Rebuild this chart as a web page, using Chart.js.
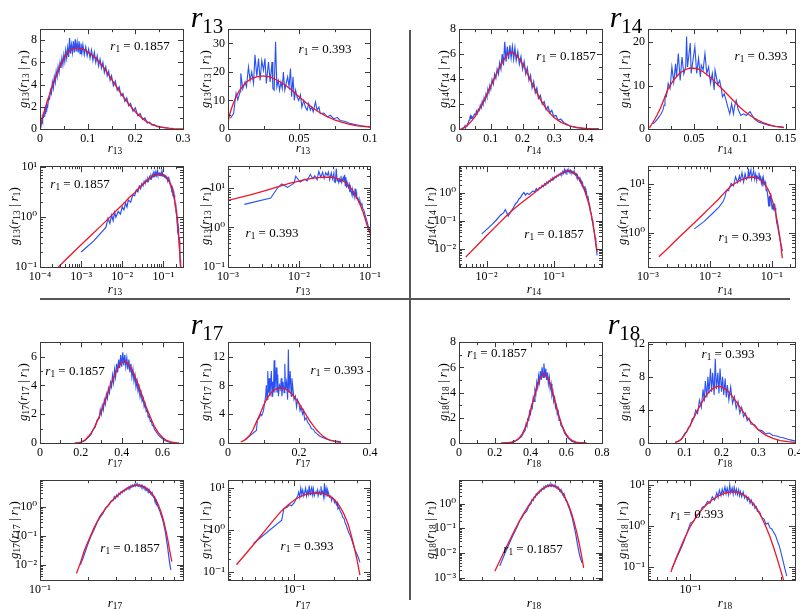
<!DOCTYPE html>
<html><head><meta charset="utf-8">
<script src="https://cdn.jsdelivr.net/npm/chart.js@4.4.1/dist/chart.umd.min.js"></script>
<style>
body{margin:0;width:800px;height:609px;position:relative;background:#fff;overflow:hidden;font-family:'Liberation Serif','DejaVu Serif',serif;color:#000}
canvas{position:absolute}
.t{position:absolute;white-space:nowrap;line-height:1}
.t sub{font-size:0.72em;vertical-align:-0.32em;line-height:0}
.big sub{font-size:0.7em;vertical-align:-0.28em}
.line{position:absolute;background:#555}
</style></head><body>
<script>
// ---------- data: [r, g(r|r1)] ----------
const r13_a_red = [[0.00028,0.1],[0.0005,0.16],[0.001,0.28],[0.002,0.48],[0.003,0.66],[0.005,1.0],[0.0075,1.4],[0.01,1.75],[0.015,2.5],[0.02,3.1],[0.025,3.8],[0.03,4.4],[0.035,4.95],[0.04,5.45],[0.045,5.95],[0.05,6.35],[0.055,6.7],[0.06,6.95],[0.065,7.15],[0.07,7.25],[0.075,7.3],[0.08,7.3],[0.085,7.25],[0.09,7.2],[0.095,7.1],[0.10,6.95],[0.11,6.65],[0.12,6.25],[0.13,5.75],[0.14,5.15],[0.15,4.5],[0.16,3.85],[0.17,3.2],[0.18,2.6],[0.19,2.05],[0.20,1.55],[0.21,1.12],[0.22,0.78],[0.23,0.52],[0.24,0.33],[0.25,0.2],[0.26,0.12],[0.27,0.07],[0.28,0.04],[0.29,0.02],[0.30,0.01]];
const r13_a_blue = [[0.001,0.2],[0.002,0.33],[0.003,0.48],[0.004,0.62],[0.0045,0.95],[0.005,0.75],[0.0055,1.1],[0.006,0.85],[0.0065,1.25],[0.007,1.0],[0.008,1.3],[0.009,1.15],[0.010,1.6],[0.011,1.4],[0.012,1.9],[0.013,1.6],[0.014,2.2],[0.016,2.0],[0.018,2.8],[0.020,2.7],[0.022,3.5],[0.024,3.2],[0.026,4.2],[0.028,3.7],[0.030,4.7],[0.032,4.2],[0.034,5.2],[0.036,4.7],[0.038,5.6],[0.040,5.1],[0.042,6.0],[0.044,5.5],[0.046,6.4],[0.048,5.8],[0.050,6.7],[0.052,6.1],[0.054,7.1],[0.056,6.4],[0.058,7.3],[0.060,6.5],[0.062,8.2],[0.064,6.8],[0.066,7.6],[0.068,6.9],[0.070,7.9],[0.072,6.9],[0.074,8.1],[0.076,7.0],[0.078,7.8],[0.080,6.9],[0.082,7.9],[0.084,6.8],[0.086,7.7],[0.088,6.9],[0.090,7.6],[0.093,6.7],[0.096,7.4],[0.099,6.6],[0.102,7.2],[0.105,6.4],[0.108,7.1],[0.111,6.2],[0.114,6.9],[0.117,6.0],[0.120,6.6],[0.123,5.7],[0.126,6.3],[0.129,5.5],[0.132,6.0],[0.135,5.1],[0.138,5.6],[0.141,4.8],[0.144,5.2],[0.147,4.4],[0.150,4.8],[0.154,3.9],[0.158,4.3],[0.162,3.5],[0.166,3.8],[0.170,3.0],[0.174,3.2],[0.178,2.5],[0.182,2.8],[0.186,2.1],[0.190,2.3],[0.195,1.6],[0.200,1.9],[0.205,1.2],[0.210,1.4],[0.215,0.85],[0.220,1.0],[0.225,0.55],[0.230,0.62],[0.235,0.35],[0.240,0.4],[0.245,0.22],[0.250,0.24],[0.255,0.14],[0.260,0.14],[0.265,0.09],[0.270,0.08]];

const r13_b_red = [[0.0003,3.0],[0.001,4.8],[0.002,6.5],[0.003,8.0],[0.005,10.5],[0.0075,13],[0.01,14.8],[0.013,16.5],[0.016,17.5],[0.02,18.3],[0.025,18.6],[0.03,18.2],[0.035,17.0],[0.04,15.5],[0.045,13.6],[0.05,11.3],[0.055,9.2],[0.06,7.3],[0.065,5.6],[0.07,4.3],[0.075,3.2],[0.08,2.4],[0.085,1.7],[0.09,1.2],[0.095,0.9],[0.1,0.7]];
const r13_b_blue = [[0.0017,3.8],[0.004,5.5],[0.005,10],[0.0057,12.5],[0.0069,10.2],[0.0085,13],[0.009,19.5],[0.0104,14],[0.012,16.5],[0.013,14.8],[0.0144,21.8],[0.0156,17],[0.0167,20],[0.018,16],[0.019,26],[0.0203,18.4],[0.0215,24.7],[0.0226,17],[0.0238,24],[0.025,20.6],[0.026,24.7],[0.027,16],[0.0285,23.5],[0.0297,16.5],[0.031,23.5],[0.0316,14.2],[0.0325,13.6],[0.0335,30.6],[0.0344,14.8],[0.0354,17],[0.0363,13.6],[0.0373,16.5],[0.0382,14.2],[0.039,20],[0.040,13.6],[0.041,16],[0.042,18.3],[0.043,14.8],[0.044,21.2],[0.0448,11.3],[0.0458,18.3],[0.0467,10],[0.0476,13.6],[0.0486,11.3],[0.0498,10],[0.051,12],[0.052,7.7],[0.0533,10],[0.0545,7.7],[0.0557,6.6],[0.0568,8.9],[0.058,6.6],[0.059,7.7],[0.060,6],[0.0616,9.5],[0.0627,6.6],[0.064,7.7],[0.065,5.4],[0.0675,5.6],[0.070,4.2],[0.072,4.8],[0.0745,3.6],[0.077,4.0],[0.079,3.0],[0.082,2.7],[0.085,2.1],[0.088,1.7],[0.091,1.4],[0.094,1.1],[0.097,0.95],[0.1,0.75]];

const r14_a_red = [[0.0049,0.0052],[0.007,0.0125],[0.01,0.030],[0.015,0.08],[0.02,0.16],[0.025,0.26],[0.03,0.38],[0.04,0.65],[0.05,0.98],[0.06,1.4],[0.07,1.85],[0.08,2.35],[0.09,2.9],[0.10,3.45],[0.11,4.0],[0.12,4.55],[0.13,5.05],[0.14,5.5],[0.15,5.9],[0.16,6.15],[0.17,6.1],[0.18,5.9],[0.19,5.6],[0.20,5.2],[0.21,4.75],[0.22,4.2],[0.23,3.65],[0.24,3.15],[0.25,2.65],[0.26,2.2],[0.27,1.8],[0.28,1.45],[0.29,1.15],[0.30,0.9],[0.32,0.55],[0.34,0.32],[0.36,0.17],[0.38,0.085],[0.40,0.04],[0.42,0.018],[0.44,0.008]];
const r14_a_blue = [[0.0085,0.035],[0.010,0.05],[0.012,0.075],[0.014,0.11],[0.016,0.16],[0.018,0.2],[0.019,0.26],[0.020,0.2],[0.021,0.15],[0.023,0.22],[0.025,0.3],[0.027,0.42],[0.029,0.5],[0.030,0.6],[0.032,0.7],[0.034,0.9],[0.036,1.05],[0.038,0.85],[0.040,1.0],[0.043,0.9],[0.046,1.05],[0.049,1.2],[0.052,1.1],[0.055,1.45],[0.058,1.25],[0.061,1.6],[0.064,1.5],[0.067,1.9],[0.070,1.7],[0.073,2.2],[0.076,1.95],[0.079,2.5],[0.082,2.25],[0.085,2.8],[0.088,2.55],[0.091,3.2],[0.094,2.9],[0.097,3.5],[0.100,3.2],[0.104,3.95],[0.108,3.6],[0.112,4.4],[0.116,4.05],[0.120,4.8],[0.124,4.4],[0.128,5.3],[0.132,4.8],[0.136,6.0],[0.140,5.1],[0.144,7.0],[0.148,5.4],[0.152,6.6],[0.156,5.6],[0.160,6.7],[0.164,5.7],[0.168,6.6],[0.172,5.6],[0.176,6.5],[0.180,5.5],[0.185,6.2],[0.190,5.2],[0.195,5.8],[0.200,4.8],[0.205,5.4],[0.210,4.4],[0.215,4.9],[0.220,3.9],[0.225,4.3],[0.230,3.3],[0.235,3.8],[0.240,2.9],[0.245,3.3],[0.250,2.45],[0.256,2.7],[0.262,2.0],[0.268,2.2],[0.274,1.55],[0.280,1.8],[0.286,1.3],[0.292,1.5],[0.298,1.0],[0.305,1.1],[0.312,0.7],[0.320,0.8],[0.330,0.5],[0.340,0.38],[0.350,0.22],[0.360,0.19],[0.370,0.11],[0.380,0.09],[0.390,0.055],[0.400,0.04],[0.410,0.025],[0.420,0.015],[0.430,0.01],[0.440,0.006]];

const r14_b_red = [[0.0015,0.32],[0.002,0.45],[0.003,0.75],[0.005,1.4],[0.0075,2.3],[0.01,3.3],[0.0135,4.8],[0.0175,6.9],[0.022,9.3],[0.028,11.3],[0.034,12.8],[0.04,13.6],[0.045,14.0],[0.05,14.0],[0.055,13.8],[0.06,13.2],[0.065,12.4],[0.07,11.5],[0.075,10.4],[0.08,9.4],[0.085,8.3],[0.09,7.2],[0.095,6.1],[0.10,5.0],[0.105,4.1],[0.11,3.3],[0.115,2.6],[0.12,2.0],[0.125,1.5],[0.13,1.1],[0.135,0.8],[0.14,0.55],[0.148,0.3]];
const r14_b_blue = [[0.0056,1.2],[0.008,1.7],[0.011,2.5],[0.014,3.4],[0.0163,4.4],[0.0175,5.5],[0.0185,7.5],[0.020,7.4],[0.022,10.5],[0.024,9.3],[0.026,14.3],[0.028,10.8],[0.030,15],[0.031,12],[0.033,17.4],[0.035,11.2],[0.037,16.6],[0.039,12.7],[0.041,14.3],[0.042,21.3],[0.043,14.3],[0.046,19.8],[0.047,12.8],[0.049,15.9],[0.051,19],[0.053,12.8],[0.055,16.3],[0.057,12],[0.058,14.7],[0.060,13.6],[0.062,17.4],[0.064,12.8],[0.066,14.3],[0.068,10.5],[0.070,12.8],[0.072,9],[0.073,13.6],[0.076,10.2],[0.078,11.2],[0.080,9],[0.081,7.4],[0.083,8.1],[0.085,6.6],[0.087,5],[0.089,3.5],[0.091,5.8],[0.093,3.5],[0.094,5],[0.096,6.6],[0.098,4.6],[0.101,3.1],[0.104,3.5],[0.107,3.1],[0.109,3.6],[0.111,4.0],[0.113,3.3],[0.116,2.3],[0.120,1.6],[0.125,1.3],[0.131,0.9],[0.138,0.65],[0.145,0.5],[0.148,0.42]];

const r17_a_red = [[0.17,0.005],[0.18,0.012],[0.19,0.03],[0.20,0.06],[0.22,0.2],[0.24,0.5],[0.26,0.9],[0.28,1.5],[0.30,2.2],[0.32,3.0],[0.34,3.8],[0.36,4.5],[0.38,5.2],[0.40,5.6],[0.42,5.65],[0.44,5.35],[0.46,4.8],[0.48,4.1],[0.50,3.3],[0.52,2.5],[0.54,1.8],[0.56,1.15],[0.58,0.7],[0.60,0.38],[0.62,0.18],[0.64,0.08],[0.66,0.03],[0.68,0.013]];
const r17_a_blue = [[0.18,0.01],[0.19,0.022],[0.20,0.05],[0.21,0.1],[0.22,0.17],[0.23,0.3],[0.24,0.45],[0.25,0.6],[0.26,0.95],[0.27,1.1],[0.28,1.6],[0.29,1.7],[0.295,2.3],[0.30,2.0],[0.305,2.6],[0.31,2.3],[0.315,3.0],[0.32,2.7],[0.325,3.4],[0.33,3.1],[0.335,3.8],[0.34,3.5],[0.345,4.2],[0.35,3.9],[0.355,4.7],[0.36,4.2],[0.365,5.1],[0.37,4.6],[0.375,5.5],[0.38,4.9],[0.385,5.8],[0.39,5.2],[0.395,6.1],[0.40,5.3],[0.405,6.3],[0.41,5.4],[0.415,6.1],[0.42,5.3],[0.425,5.9],[0.43,5.1],[0.435,5.8],[0.44,4.9],[0.445,5.5],[0.45,4.6],[0.455,5.1],[0.46,4.3],[0.465,4.7],[0.47,3.9],[0.475,4.3],[0.48,3.6],[0.485,3.9],[0.49,3.2],[0.495,3.5],[0.50,2.9],[0.505,3.1],[0.51,2.5],[0.515,2.7],[0.52,2.2],[0.525,2.3],[0.53,1.8],[0.535,1.9],[0.54,1.5],[0.545,1.55],[0.55,1.2],[0.555,1.2],[0.56,0.95],[0.57,0.75],[0.58,0.55],[0.59,0.42],[0.60,0.3],[0.61,0.2],[0.62,0.13],[0.63,0.07],[0.64,0.04],[0.65,0.02],[0.66,0.011],[0.67,0.0067]];

const r17_b_red = [[0.036,0.15],[0.04,0.22],[0.05,0.5],[0.06,1.0],[0.07,1.8],[0.08,2.9],[0.09,4.0],[0.10,5.2],[0.11,6.2],[0.12,6.9],[0.13,7.4],[0.14,7.6],[0.15,7.65],[0.16,7.55],[0.17,7.25],[0.18,6.8],[0.19,6.2],[0.20,5.5],[0.21,4.7],[0.22,3.9],[0.23,3.1],[0.24,2.4],[0.25,1.8],[0.26,1.3],[0.27,0.85],[0.28,0.55],[0.29,0.35],[0.30,0.22],[0.31,0.13],[0.318,0.085]];
const r17_b_blue = [[0.0486,0.48],[0.08,1.73],[0.083,3.2],[0.088,3.5],[0.092,4.0],[0.095,3.8],[0.10,4.5],[0.103,5.5],[0.106,6.5],[0.108,8.0],[0.11,6.0],[0.112,10.0],[0.114,7.0],[0.116,9.0],[0.118,6.5],[0.12,8.0],[0.122,10.0],[0.124,6.5],[0.126,8.5],[0.128,7.0],[0.13,11.5],[0.132,7.0],[0.134,9.0],[0.136,10.5],[0.138,7.0],[0.14,9.5],[0.142,6.5],[0.145,8.0],[0.148,7.5],[0.15,9.0],[0.152,6.5],[0.155,8.5],[0.158,7.0],[0.16,11.0],[0.162,7.5],[0.165,8.5],[0.168,6.0],[0.17,13.0],[0.172,7.0],[0.175,10.0],[0.178,6.5],[0.18,9.0],[0.183,7.5],[0.186,6.0],[0.19,6.5],[0.193,5.0],[0.196,6.0],[0.2,5.5],[0.203,4.5],[0.206,5.0],[0.21,4.0],[0.213,4.5],[0.216,3.2],[0.22,3.5],[0.225,2.8],[0.23,2.5],[0.235,2.0],[0.24,1.9],[0.245,1.5],[0.25,1.3],[0.26,0.9],[0.27,0.7],[0.28,0.5],[0.29,0.35],[0.30,0.28],[0.31,0.22],[0.318,0.17]];

const r18_a_red = [[0.235,0.0018],[0.255,0.0066],[0.275,0.021],[0.295,0.062],[0.315,0.16],[0.335,0.37],[0.355,0.75],[0.375,1.38],[0.395,2.27],[0.415,3.35],[0.435,4.4],[0.455,5.2],[0.475,5.5],[0.495,5.25],[0.515,4.5],[0.535,3.45],[0.555,2.35],[0.575,1.45],[0.595,0.8],[0.615,0.4],[0.635,0.18],[0.655,0.072],[0.675,0.026],[0.695,0.0085],[0.715,0.0025]];
const r18_a_blue = [[0.25,0.003],[0.27,0.012],[0.29,0.04],[0.31,0.11],[0.32,0.2],[0.33,0.27],[0.34,0.4],[0.35,0.5],[0.36,0.8],[0.37,1.0],[0.375,1.5],[0.38,1.35],[0.385,1.9],[0.39,1.8],[0.395,2.5],[0.40,2.3],[0.405,3.0],[0.41,2.8],[0.415,3.6],[0.42,3.3],[0.425,4.2],[0.43,3.9],[0.435,4.8],[0.44,4.4],[0.445,5.3],[0.45,4.8],[0.455,5.7],[0.46,5.0],[0.465,6.0],[0.47,5.2],[0.475,6.3],[0.48,5.2],[0.485,5.9],[0.49,5.0],[0.495,5.6],[0.50,4.7],[0.505,5.2],[0.51,4.3],[0.515,4.7],[0.52,3.8],[0.525,4.1],[0.53,3.3],[0.535,3.6],[0.54,2.8],[0.545,3.0],[0.55,2.3],[0.555,2.5],[0.56,1.8],[0.565,1.9],[0.57,1.4],[0.58,1.2],[0.59,0.8],[0.60,0.6],[0.61,0.38],[0.62,0.27],[0.63,0.15],[0.64,0.09],[0.65,0.05],[0.66,0.025],[0.67,0.014],[0.68,0.008],[0.70,0.004]];

const r18_b_red = [[0.074,0.075],[0.08,0.16],[0.09,0.45],[0.10,1.0],[0.11,1.75],[0.12,2.6],[0.13,3.5],[0.14,4.4],[0.15,5.2],[0.16,5.85],[0.17,6.35],[0.18,6.7],[0.19,6.85],[0.20,6.8],[0.21,6.55],[0.22,6.15],[0.23,5.6],[0.24,5.0],[0.25,4.35],[0.26,3.7],[0.27,3.1],[0.28,2.55],[0.30,1.6],[0.32,0.95],[0.34,0.55],[0.36,0.3],[0.38,0.16],[0.40,0.085],[0.43,0.035],[0.46,0.014]];
const r18_b_blue = [[0.075,0.09],[0.085,0.25],[0.09,0.4],[0.095,0.7],[0.10,1.2],[0.105,1.3],[0.11,1.9],[0.115,2.0],[0.12,2.9],[0.125,3.1],[0.13,4.0],[0.135,3.6],[0.14,5.2],[0.145,4.3],[0.15,6.5],[0.153,5.0],[0.156,7.5],[0.16,5.5],[0.163,8.0],[0.166,6.0],[0.17,9.0],[0.173,6.2],[0.176,8.5],[0.18,5.8],[0.183,10.2],[0.186,6.5],[0.19,8.5],[0.193,6.0],[0.196,9.0],[0.20,6.2],[0.203,8.0],[0.206,5.8],[0.21,7.8],[0.213,5.5],[0.216,7.0],[0.22,5.2],[0.225,6.8],[0.23,4.8],[0.235,5.6],[0.24,4.2],[0.245,5.0],[0.25,3.6],[0.255,4.3],[0.26,3.2],[0.265,3.6],[0.27,2.7],[0.275,3.0],[0.28,2.3],[0.29,2.2],[0.30,1.6],[0.31,1.5],[0.32,1.1],[0.33,1.2],[0.34,0.9],[0.35,0.85],[0.36,0.7],[0.37,0.6],[0.38,0.45],[0.39,0.35],[0.40,0.25],[0.42,0.12],[0.44,0.06]];

const quadrants = ['13','14','17','18'];
const r1_values = ['0.1857','0.393'];

// ---------- layout ----------
const COLS = [[40,183],[228,370],[459,602],[648,795]];
const ROWS = [[29,129],[166,267],[342,443],[480,580]];
const L = 46, T = 10, R = 14, B = 26;
const BLUE = 'rgb(40,80,245)', RED = 'rgb(238,22,40)';
const FONT = "'Liberation Serif','DejaVu Serif',serif";

const SER = {
  r13a:{blue:r13_a_blue, red:r13_a_red, bw:1.2}, r13b:{blue:r13_b_blue, red:r13_b_red, bw:1.1},
  r14a:{blue:r14_a_blue, red:r14_a_red, bw:1.2}, r14b:{blue:r14_b_blue, red:r14_b_red, bw:1.1},
  r17a:{blue:r17_a_blue, red:r17_a_red, bw:1.2}, r17b:{blue:r17_b_blue, red:r17_b_red, bw:1.1},
  r18a:{blue:r18_a_blue, red:r18_a_red, bw:1.2}, r18b:{blue:r18_b_blue, red:r18_b_red, bw:1.1}
};

const PANELS = [
  {c:0,r:0,s:'r13a',log:false,xmin:0,xmax:0.3,xstep:0.1,ymin:0,ymax:9,ystep:2},
  {c:1,r:0,s:'r13b',log:false,xmin:0,xmax:0.1,xstep:0.05,ymin:0,ymax:35,ystep:10},
  {c:0,r:1,s:'r13a',log:true,xmin:1e-4,xmax:0.3,ymin:0.1,ymax:10.5},
  {c:1,r:1,s:'r13b',log:true,xmin:1e-3,xmax:0.1,ymin:0.1,ymax:35},
  {c:2,r:0,s:'r14a',log:false,xmin:0,xmax:0.45,xstep:0.1,ymin:0,ymax:8,ystep:2},
  {c:3,r:0,s:'r14b',log:false,xmin:0,xmax:0.16,xstep:0.05,ymin:0,ymax:23,ystep:10},
  {c:2,r:1,s:'r14a',log:true,xmin:0.0039,xmax:0.52,ymin:0.0023,ymax:9.2},
  {c:3,r:1,s:'r14b',log:true,xmin:0.001,xmax:0.237,ymin:0.196,ymax:23.7},
  {c:0,r:2,s:'r17a',log:false,xmin:0,xmax:0.7,xstep:0.2,ymin:0,ymax:7,ystep:2},
  {c:1,r:2,s:'r17b',log:false,xmin:0,xmax:0.4,xstep:0.2,ymin:0,ymax:14,ystep:4},
  {c:0,r:3,s:'r17a',log:true,xmin:0.1,xmax:0.8,ymin:0.003,ymax:8.5},
  {c:1,r:3,s:'r17b',log:true,xmin:0.031,xmax:0.38,ymin:0.065,ymax:15.4},
  {c:2,r:2,s:'r18a',log:false,xmin:0,xmax:0.8,xstep:0.2,ymin:0,ymax:8,ystep:2},
  {c:3,r:2,s:'r18b',log:false,xmin:0,xmax:0.4,xstep:0.1,ymin:0,ymax:12.2,ystep:4},
  {c:2,r:3,s:'r18a',log:true,xmin:0.15,xmax:0.9,ymin:0.0008,ymax:9},
  {c:3,r:3,s:'r18b',log:true,xmin:0.052,xmax:0.5,ymin:0.048,ymax:13.2}
];

const SUP = {'0':'⁰','1':'¹','2':'²','3':'³','4':'⁴','5':'⁵','6':'⁶','7':'⁷','8':'⁸','9':'⁹','-':'⁻'};
function logLab(v){ const l=Math.log10(v), r=Math.round(l); return Math.abs(l-r)<1e-6 ? '10'+String(r).split('').map(c=>SUP[c]).join('') : ''; }
function linLab(v, st){ const q=v/st; return Math.abs(q-Math.round(q))<1e-6 ? String(Number(v.toFixed(4))) : ''; }

function marks(s){
  const out=[];
  if (s.type==='logarithmic'){
    for (let e=Math.floor(Math.log10(s.min)); e<=Math.ceil(Math.log10(s.max)); e++)
      for (let k=1;k<=9;k++){ const v=k*Math.pow(10,e); if (v>=s.min*0.9999 && v<=s.max*1.0001) out.push({p:s.getPixelForValue(v), len:k===1?6:3}); }
  } else {
    const st=s.options.ticks.stepSize/2;
    for (let i=0;;i++){ const v=s.min+i*st; if (v>s.max+1e-9) break; out.push({p:s.getPixelForValue(v), len:i%2===0?5:3}); }
  }
  return out;
}
const frameTicks = {
  id:'frameTicks',
  afterDatasetsDraw(chart){
    const {ctx, chartArea:a} = chart, xs=chart.scales.x, ys=chart.scales.y;
    ctx.save(); ctx.strokeStyle='#3a3a3a'; ctx.lineWidth=1;
    ctx.beginPath();
    for (const m of marks(xs)){ const px=Math.round(m.p)+0.5; ctx.moveTo(px,a.bottom); ctx.lineTo(px,a.bottom-m.len); ctx.moveTo(px,a.top); ctx.lineTo(px,a.top+m.len); }
    for (const m of marks(ys)){ const py=Math.round(m.p)+0.5; ctx.moveTo(a.left,py); ctx.lineTo(a.left+m.len,py); ctx.moveTo(a.right,py); ctx.lineTo(a.right-m.len,py); }
    ctx.stroke();
    ctx.strokeRect(Math.round(a.left)+0.5, Math.round(a.top)+0.5, Math.round(a.right-a.left), Math.round(a.bottom-a.top));
    ctx.restore();
  }
};

function axis(p,k){
  const log=p.log;
  const o = {
    type: log?'logarithmic':'linear', min:p[k+'min'], max:p[k+'max'], position: k==='x'?'bottom':'left',
    afterFit: s => { if (k==='x') s.height=B; else s.width=L; },
    grid:{display:false, drawTicks:false}, border:{display:false},
    ticks:{autoSkip:false, maxRotation:0, minRotation:0, padding:3, color:'#000',
      font:{family:FONT, size:12},
      callback: v => log ? logLab(v) : linLab(v, p[k+'step'])}
  };
  if (!log){ o.ticks.stepSize = p[k+'step']; o.ticks.includeBounds = false; }
  return o;
}

function makePanel(p){
  const [x0,x1]=COLS[p.c], [y0,y1]=ROWS[p.r];
  const W=x1-x0+L+R, H=y1-y0+T+B;
  const cv=document.createElement('canvas');
  cv.width=W; cv.height=H;
  cv.style.left=(x0-L)+'px'; cv.style.top=(y0-T)+'px'; cv.style.width=W+'px'; cv.style.height=H+'px';
  document.body.appendChild(cv);
  const ser=SER[p.s];
  new Chart(cv.getContext('2d'), {
    type:'line',
    data:{datasets:[
      {data:ser.red.map(([x,y])=>({x,y})), borderColor:RED, borderWidth:1.3, pointRadius:0, fill:false},
      {data:ser.blue.map(([x,y])=>({x,y})), borderColor:BLUE, borderWidth:ser.bw, pointRadius:0, fill:false}
    ]},
    options:{
      responsive:false, animation:false, devicePixelRatio:1,
      layout:{padding:{left:0,top:T,right:R,bottom:0}},
      plugins:{legend:{display:false}, tooltip:{enabled:false}},
      elements:{line:{tension:0}},
      scales:{x:axis(p,'x'), y:axis(p,'y')}
    },
    plugins:[frameTicks]
  });
}
PANELS.forEach(makePanel);

// ---------- text ----------
function txt(x,y,html,size,rot,cls){
  const d=document.createElement('div');
  d.className='t'+(cls?' '+cls:'');
  d.style.left=x+'px'; d.style.top=y+'px'; d.style.fontSize=size+'px';
  d.style.transform='translate(-50%,-50%)'+(rot?' rotate(-90deg)':'');
  d.innerHTML=html; document.body.appendChild(d);
}
const sym=(s,n)=>`<i>${s}</i><sub>${n}</sub>`;
const gT=n=>`${sym('g',n)}(${sym('r',n)} | ${sym('r','1')})`;

// quadrant titles
[[207,17],[626,17],[207,324],[624,324]].forEach(([x,y],i)=>txt(x,y,sym('r',quadrants[i]),30,false,'big'));

// x axis titles
const XT_X=[115,303,534,725], XT_Y=[147,288,460,602];
PANELS.forEach(p=>txt(XT_X[p.c], XT_Y[p.r], sym('r',quadrants[Math.floor(p.r/2)*2 + Math.floor(p.c/2)]), 13));

// y axis titles
const YT_X_LIN=[22,204,442,623], YT_X_LOG=[13,204,429,621], YT_Y=[79,216,392,530];
PANELS.forEach(p=>txt((p.log?YT_X_LOG:YT_X_LIN)[p.c], YT_Y[p.r], gT(quadrants[Math.floor(p.r/2)*2 + Math.floor(p.c/2)]), 13, true));

// r1 annotations
const R1POS=[[140,45],[325,48],[80,183],[272,232],[566,55],[761,55],[554,233],[745,236],[75,370],[337,369],[130,547],[307,545],[497,352],[728,353],[533,548],[697,513]];
PANELS.forEach((p,i)=>txt(R1POS[i][0], R1POS[i][1], `${sym('r','1')} = ${r1_values[p.c%2]}`, 13));

// dividers
function line(l,t,w,h){ const d=document.createElement('div'); d.className='line'; d.style.cssText+=`left:${l}px;top:${t}px;width:${w}px;height:${h}px`; document.body.appendChild(d); }
line(409,30,2,570);
line(40,298,750,2);
</script></body></html>
